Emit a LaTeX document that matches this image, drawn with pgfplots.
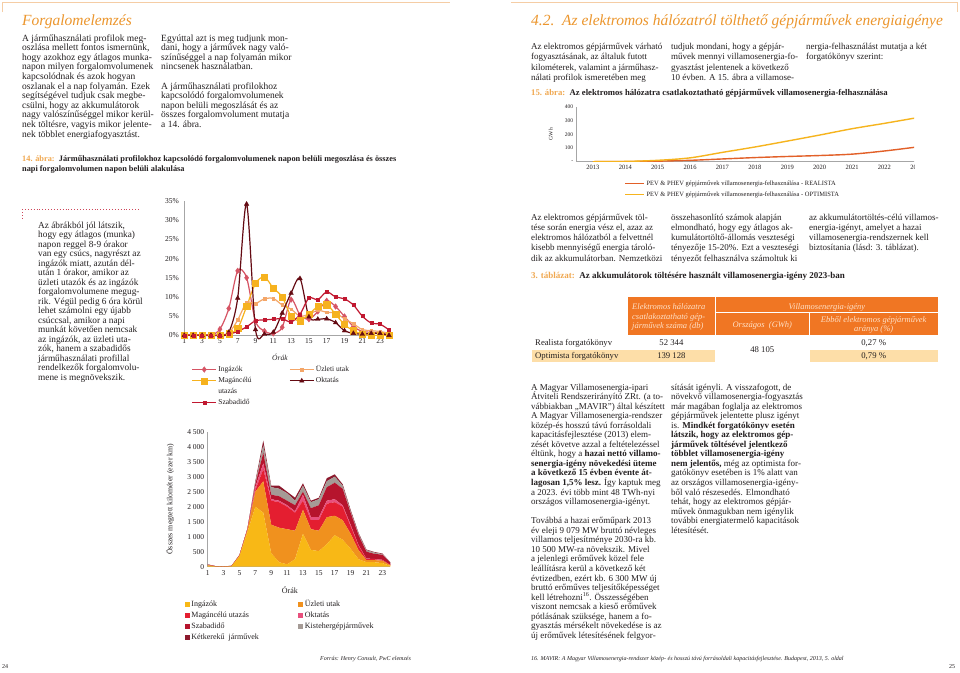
\documentclass[border=0pt]{standalone}
\usepackage{fontspec}
\setmainfont{Liberation Serif}
\usepackage{pgfplots}
\pgfplotsset{compat=1.18}

\definecolor{hdor}{RGB}{236,150,45}
\definecolor{capor}{RGB}{240,168,80}
\definecolor{rulec}{RGB}{245,205,165}
\definecolor{tabor}{RGB}{240,118,35}
\definecolor{tabrow}{RGB}{253,222,168}
\definecolor{tabhd}{RGB}{255,224,198}
\definecolor{txt}{RGB}{35,31,32}
\definecolor{cIng}{RGB}{214,84,100}
\definecolor{cUzl}{RGB}{244,166,104}
\definecolor{cMag}{RGB}{246,178,30}
\definecolor{cSza}{RGB}{193,24,48}
\definecolor{cOkt}{RGB}{100,10,18}
\definecolor{aIng}{RGB}{248,184,22}
\definecolor{aUzl}{RGB}{240,145,30}
\definecolor{aMag}{RGB}{228,30,48}
\definecolor{aOkt}{RGB}{232,80,125}
\definecolor{aSza}{RGB}{182,20,45}
\definecolor{aKis}{RGB}{165,155,150}
\definecolor{aKet}{RGB}{140,25,45}
\definecolor{cRea}{RGB}{226,96,40}
\definecolor{cOpt}{RGB}{246,180,30}

\newcommand\tb[3]{\vtop{\fontsize{#1}{#2}\selectfont\lineskiplimit=-100pt\lineskip=0pt\halign{##\hfil\cr#3\crcr}}}
\newcommand\tbc[3]{\vtop{\fontsize{#1}{#2}\selectfont\lineskiplimit=-100pt\lineskip=0pt\halign{\hfil##\hfil\cr#3\crcr}}}

\begin{document}
\begin{tikzpicture}[x=1pt,y=-1pt,T/.style={anchor=base west,inner sep=0pt,text=txt}]
\fill[white] (0,0) rectangle (960,672);
\useasboundingbox (0,0) rectangle (960,672);

% top rules
\draw[rulec,line width=0.8pt] (2,12) -- (2,2) -- (450,2);
\draw[rulec,line width=0.8pt] (511,2) -- (957,2) -- (957,12);

% headings
\node[T,text=hdor,font=\fontsize{15.5}{18}\selectfont\itshape] at (22,25) {Forgalomelemzés};
\node[T,text=hdor,font=\fontsize{15.5}{18}\selectfont\itshape] at (531,25) {4.2.\ \ Az elektromos hálózatról tölthető gépjárművek energiaigénye};

% left page text
\node[T] at (22,41) {\tb{9.5}{9.6}{A járműhasználati profilok meg-\cr
oszlása mellett fontos ismernünk,\cr
hogy azokhoz egy átlagos munka-\cr
napon milyen forgalomvolumenek\cr
kapcsolódnak és azok hogyan\cr
oszlanak el a nap folyamán. Ezek\cr
segítségével tudjuk csak megbe-\cr
csülni, hogy az akkumulátorok\cr
nagy valószínűséggel mikor kerül-\cr
nek töltésre, vagyis mikor jelente-\cr
nek többlet energiafogyasztást.}};
\node[T] at (161,41) {\tb{9.5}{9.6}{Egyúttal azt is meg tudjunk mon-\cr
dani, hogy a járművek nagy való-\cr
színűséggel a nap folyamán mikor\cr
nincsenek használatban.\cr
\cr
A járműhasználati profilokhoz\cr
kapcsolódó forgalomvolumenek\cr
napon belüli megoszlását és az\cr
összes forgalomvolument mutatja\cr
a 14. ábra.}};
\node[T] at (22,161) {\tb{8.3}{10}{\textbf{\textcolor{capor}{14. ábra:}}\enspace\textbf{Járműhasználati profilokhoz kapcsolódó forgalomvolumenek napon belüli megoszlása és összes}\cr
\textbf{napi forgalomvolumen napon belüli alakulása}}};

\draw[cSza!80,dotted,line width=0.9pt] (22,209) -- (140,209);
\draw[cSza!80,dotted,line width=0.9pt] (22,212) -- (22,218);

\node[T] at (38,228) {\tb{9.3}{9.53}{Az ábrákból jól látszik,\cr
hogy egy átlagos (munka)\cr
napon reggel 8-9 órakor\cr
van egy csúcs, nagyrészt az\cr
ingázók miatt, azután dél-\cr
után 1 órakor, amikor az\cr
üzleti utazók és az ingázók\cr
forgalomvolumene megug-\cr
rik. Végül pedig 6 óra körül\cr
lehet számolni egy újabb\cr
csúccsal, amikor a napi\cr
munkát követően nemcsak\cr
az ingázók, az üzleti uta-\cr
zók, hanem a szabadidős\cr
járműhasználati profillal\cr
rendelkezők forgalomvolu-\cr
mene is megnövekszik.}};

\node[T,font=\fontsize{6}{7}\selectfont\itshape] at (320,660) {Forrás: Henry Consult, PwC elemzés};
\node[T,font=\fontsize{6}{7}\selectfont] at (2,668) {24};
\node[T,font=\fontsize{6}{7}\selectfont] at (949,668) {25};

% right page text
\node[T] at (531,49) {\tb{9}{10.5}{Az elektromos gépjárművek várható\cr
fogyasztásának, az általuk futott\cr
kilométerek, valamint a járműhasz-\cr
nálati profilok ismeretében meg}};
\node[T] at (671,49) {\tb{9}{10.5}{tudjuk mondani, hogy a gépjár-\cr
művek mennyi villamosenergia-fo-\cr
gyasztást jelentenek a következő\cr
10 évben. A 15. ábra a villamose-}};
\node[T] at (806,49) {\tb{9}{10.5}{nergia-felhasználást mutatja a két\cr
forgatókönyv szerint:}};
\node[T] at (531,95) {\tb{8.7}{10}{\textbf{\textcolor{capor}{15. ábra:}}\enspace\textbf{Az elektromos hálózatra csatlakoztatható gépjárművek villamosenergia-felhasználása}}};

\node[T] at (531,220) {\tb{9}{10.3}{Az elektromos gépjárművek töl-\cr
tése során energia vész el, azaz az\cr
elektromos hálózatból a felvettnél\cr
kisebb mennyiségű energia tároló-\cr
dik az akkumulátorban. Nemzetközi}};
\node[T] at (671,220) {\tb{9}{10.3}{összehasonlító számok alapján\cr
elmondható, hogy egy átlagos ak-\cr
kumulátortöltő-állomás veszteségi\cr
tényezője 15-20\%. Ezt a veszteségi\cr
tényezőt felhasználva számoltuk ki}};
\node[T] at (809,220) {\tb{9}{10.3}{az akkumulátortöltés-célú villamos-\cr
energia-igényt, amelyet a hazai\cr
villamosenergia-rendszernek kell\cr
biztosítania (lásd: 3. táblázat).}};
\node[T] at (531,278) {\tb{9}{10}{\textbf{\textcolor{capor}{3. táblázat:}}\enspace\textbf{Az akkumulátorok töltésére használt villamosenergia-igény 2023-ban}}};

% table
\fill[tabor] (627.7,296.7) rectangle (715,335);
\fill[tabor] (716,296.7) rectangle (937.7,312.3);
\fill[tabor] (716,313) rectangle (808.7,335);
\fill[tabor] (809.7,313) rectangle (937.7,335);
\fill[tabrow] (531.7,350) rectangle (715,361.7);
\fill[tabrow] (809.7,350) rectangle (937.7,361.7);
\node[T,text=tabhd,font=\itshape] at (632,309.5) {\tb{8.5}{9.5}{Elektromos hálózatra\cr csatlakoztatható gép-\cr járművek száma (db)}};
\node[anchor=base,inner sep=0pt,text=tabhd,font=\fontsize{8.5}{9.5}\selectfont\itshape] at (826.9,309) {Villamosenergia-igény};
\node[anchor=base,inner sep=0pt,text=tabhd,font=\fontsize{8.5}{9.5}\selectfont\itshape] at (762.3,327) {Országos\ \ (GWh)};
\node[anchor=base,inner sep=0pt,text=tabhd,font=\itshape] at (873.7,322) {\tbc{8.5}{9.3}{Ebből elektromos gépjárművek\cr aránya (\%)}};
\begin{scope}[every node/.style={inner sep=0pt,text=txt,font=\fontsize{8.7}{10}\selectfont}]
\node[anchor=base west] at (535,345.3) {Realista forgatókönyv};
\node[anchor=base west] at (535,358.7) {Optimista forgatókönyv};
\node[anchor=base] at (671.4,345.3) {52 344};
\node[anchor=base] at (671.4,358.7) {139 128};
\node[anchor=base] at (762.3,352) {48 105};
\node[anchor=base] at (873.7,345.3) {0,27 \%};
\node[anchor=base] at (873.7,358.7) {0,79 \%};
\end{scope}

\node[T] at (531,390) {\tb{9}{9.55}{A Magyar Villamosenergia-ipari\cr
Átviteli Rendszerirányító ZRt. (a to-\cr
vábbiakban „MAVIR”) által készített\cr
A Magyar Villamosenergia-rendszer\cr
közép-és hosszú távú forrásoldali\cr
kapacitásfejlesztése (2013) elem-\cr
zését követve azzal a feltételezéssel\cr
éltünk, hogy a \textbf{hazai nettó villamo-}\cr
\textbf{senergia-igény növekedési üteme}\cr
\textbf{a következő 15 évben évente át-}\cr
\textbf{lagosan 1,5\% lesz.} Így kaptuk meg\cr
a 2023. évi több mint 48 TWh-nyi\cr
országos villamosenergia-igényt.\cr
\cr
Továbbá a hazai erőműpark 2013\cr
év eleji 9 079 MW bruttó névleges\cr
villamos teljesítménye 2030-ra kb.\cr
10 500 MW-ra növekszik. Mivel\cr
a jelenlegi erőművek közel fele\cr
leállításra kerül a következő két\cr
évtizedben, ezért kb. 6 300 MW új\cr
bruttó erőműves teljesítőképességet\cr
kell létrehozni\textsuperscript{16}. Összességében\cr
viszont nemcsak a kieső erőművek\cr
pótlásának szüksége, hanem a fo-\cr
gyasztás mérsékelt növekedése is az\cr
új erőművek létesítésének felgyor-}};
\node[T] at (671,390) {\tb{9}{9.55}{sítását igényli. A visszafogott, de\cr
növekvő villamosenergia-fogyasztás\cr
már magában foglalja az elektromos\cr
gépjárművek jelentette plusz igényt\cr
is. \textbf{Mindkét forgatókönyv esetén}\cr
\textbf{látszik, hogy az elektromos gép-}\cr
\textbf{járművek töltésével jelentkező}\cr
\textbf{többlet villamosenergia-igény}\cr
\textbf{nem jelentős,} még az optimista for-\cr
gatókönyv esetében is 1\% alatt van\cr
az országos villamosenergia-igény-\cr
ből való részesedés. Elmondható\cr
tehát, hogy az elektromos gépjár-\cr
művek önmagukban nem igénylik\cr
további energiatermelő kapacitások\cr
létesítését.}};
\node[T,font=\fontsize{6}{7}\selectfont\itshape] at (531,660) {16. MAVIR: A Magyar Villamosenergia-rendszer közép- és hosszú távú forrásoldali kapacitásfejlesztése. Budapest, 2013, 5. oldal};

% ===== Chart 1: percentage profiles =====
\begin{axis}[
  at={(184.3pt,-335.3pt)}, anchor=south west, scale only axis,
  width=204.7pt, height=134.3pt,
  xmin=1, xmax=24, ymin=0, ymax=35,
  axis x line*=bottom, axis y line*=left,
  axis line style={draw=black!35,line width=0.5pt},
  xtick={1,3,...,23}, ytick={0,5,...,35},
  major tick length=0pt,
  yticklabel={\pgfmathprintnumber{\tick}\%},
  yticklabel style={xshift=-2pt},
  tick label style={font=\fontsize{7.5}{8}\selectfont,text=txt},
  /pgf/number format/assume math mode=true,
  xlabel={Órák},
  every axis x label/.style={at={(axis description cs:0.467,-0.191)},anchor=base,font=\fontsize{7.5}{8}\selectfont\itshape,text=txt},
  clip=false,
  legend columns=2, legend cell align=left,
  legend style={at={(axis description cs:0.035,-0.214)},anchor=north west,draw=none,fill=none,inner sep=0pt,
    font=\fontsize{7.5}{8.5}\selectfont,text=txt,nodes={inner sep=1.5pt},row sep=1.2pt,
    /tikz/every even column/.append style={column sep=36pt}},
  legend image code/.code={\draw[mark repeat=2,mark phase=2,#1] plot coordinates {(0pt,0pt) (12pt,0pt) (24pt,0pt)};},
  every axis plot/.append style={line width=1.2pt,smooth},
]
\addplot[cIng,mark=diamond*,mark size=2.8pt,mark options={solid,line width=0.4pt}] coordinates {(1,0)(2,0)(3,0)(4,0)(5,1.6)(6,7)(7,16.8)(8,15)(9,3.7)(10,1.1)(11,0.5)(12,2.1)(13,9.3)(14,5.3)(15,4.2)(16,6.2)(17,9)(18,7.5)(19,4.9)(20,2.3)(21,1)(22,0.8)(23,0.5)(24,0.3)};
\addlegendentry{Ingázók}
\addplot[cUzl,mark=square*,mark size=1.3pt,mark options={solid,line width=0.4pt}] coordinates {(1,0)(2,0)(3,0)(4,0)(5,0.2)(6,0.6)(7,4)(8,8.5)(9,8.3)(10,9.5)(11,9.6)(12,7.9)(13,6.8)(14,5)(15,5.5)(16,6.5)(17,6)(18,5.8)(19,4.3)(20,3)(21,1.5)(22,1.2)(23,1)(24,0.5)};
\addlegendentry{Üzleti utak}
\addplot[cMag,mark=square*,mark size=3.1pt,mark options={solid,line width=0.4pt}] coordinates {(1,0)(2,0)(3,0)(4,0)(5,0)(6,0.4)(7,1.8)(8,7.5)(9,13.5)(10,15.2)(11,12.3)(12,10)(13,5)(14,3.8)(15,5.5)(16,7.5)(17,8)(18,5.5)(19,2.8)(20,1.2)(21,0.3)(22,0)(23,0)(24,0)};
\addlegendentry{Magáncélú}
\addplot[cOkt,mark=triangle*,mark size=2.6pt,mark options={solid,line width=0.4pt}] coordinates {(1,0)(2,0)(3,0)(4,0)(5,0)(6,0.8)(7,9.7)(8,34.2)(9,1.5)(10,0.3)(11,0.8)(12,5.8)(13,11)(14,14.8)(15,4.8)(16,4.2)(17,4.3)(18,3.3)(19,1.2)(20,0.5)(21,0.3)(22,0.5)(23,0.5)(24,0)};
\addlegendentry{Oktatás}
\addlegendimage{empty legend}
\addlegendentry{utazás}
\addlegendimage{empty legend}
\addlegendentry{}
\addplot[cSza,mark=square*,mark size=1.5pt,mark options={solid,line width=0.4pt}] coordinates {(1,0)(2,0)(3,0)(4,0)(5,0)(6,0.3)(7,1)(8,2.2)(9,3.8)(10,4)(11,4.2)(12,4.3)(13,3.5)(14,5.5)(15,9.7)(16,9.3)(17,11.3)(18,10)(19,9.5)(20,7.9)(21,5)(22,3.2)(23,2.9)(24,1.4)};
\addlegendentry{Szabadidő}
\end{axis}

% ===== Chart 2: stacked km =====
\begin{axis}[
  at={(207.7pt,-566.7pt)}, anchor=south west, scale only axis,
  width=182.6pt, height=135pt,
  xmin=1, xmax=24, ymin=0, ymax=4500,
  stack plots=y,
  axis x line*=bottom, axis y line*=left,
  axis line style={draw=black!35,line width=0.5pt},
  xtick={1,3,...,23}, ytick={0,500,...,4500},
  major tick length=0pt,
  tick label style={font=\fontsize{7.5}{8}\selectfont,text=txt},
  /pgf/number format/assume math mode=true,
  /pgf/number format/1000 sep={\ },
  ylabel={Összes megtett kilométer (ezer km)},
  every axis y label/.style={at={(axis description cs:-0.206,0.5)},rotate=90,anchor=center,font=\fontsize{7.8}{8}\selectfont,text=txt},
  xlabel={Órák},
  every axis x label/.style={at={(axis description cs:0.45,-0.2)},anchor=base,font=\fontsize{8}{8}\selectfont,text=txt},
  legend columns=2, legend cell align=left,
  legend style={at={(axis description cs:-0.126,-0.235)},anchor=north west,draw=none,fill=none,inner sep=0pt,
    font=\fontsize{8}{9}\selectfont,text=txt,nodes={inner sep=1.5pt},row sep=0.9pt,
    /tikz/every even column/.append style={column sep=38pt}},
  legend image code/.code={\fill[#1] (0pt,-2.5pt) rectangle (5pt,2.5pt);},
]
\addplot[fill=aIng,draw=none] coordinates {(1,40)(2,10)(3,5)(4,15)(5,350)(6,1150)(7,2000)(8,1800)(9,450)(10,150)(11,80)(12,250)(13,1100)(14,560)(15,520)(16,750)(17,1050)(18,900)(19,600)(20,250)(21,150)(22,150)(23,120)(24,30)} \closedcycle;
\addlegendentry{Ingázók}
\addplot[fill=aUzl,draw=none] coordinates {(1,10)(2,2)(3,3)(4,5)(5,20)(6,70)(7,500)(8,1050)(9,950)(10,1150)(11,1170)(12,950)(13,800)(14,690)(15,680)(16,900)(17,650)(18,650)(19,500)(20,300)(21,70)(22,70)(23,80)(24,20)} \closedcycle;
\addlegendentry{Üzleti utak}
\addplot[fill=aMag,draw=none] coordinates {(1,5)(2,2)(3,1)(4,2)(5,5)(6,20)(7,50)(8,400)(9,800)(10,850)(11,750)(12,600)(13,300)(14,300)(15,350)(16,450)(17,450)(18,450)(19,250)(20,150)(21,30)(22,30)(23,20)(24,10)} \closedcycle;
\addlegendentry{Magáncélú utazás}
\addplot[fill=aOkt,draw=none] coordinates {(1,2)(2,1)(3,1)(4,1)(5,5)(6,10)(7,100)(8,200)(9,50)(10,50)(11,50)(12,50)(13,200)(14,100)(15,100)(16,100)(17,100)(18,50)(19,50)(20,20)(21,20)(22,10)(23,10)(24,0)} \closedcycle;
\addlegendentry{Oktatás}
\addplot[fill=aSza,draw=none] coordinates {(1,13)(2,3)(3,2)(4,4)(5,5)(6,10)(7,100)(8,350)(9,150)(10,150)(11,150)(12,200)(13,100)(14,300)(15,400)(16,450)(17,550)(18,550)(19,400)(20,330)(21,230)(22,170)(23,170)(24,70)} \closedcycle;
\addlegendentry{Szabadidő}
\addplot[fill=aKis,draw=none] coordinates {(1,5)(2,1)(3,1)(4,1)(5,2)(6,5)(7,50)(8,250)(9,250)(10,250)(11,250)(12,150)(13,200)(14,200)(15,200)(16,200)(17,200)(18,100)(19,50)(20,50)(21,50)(22,40)(23,20)(24,10)} \closedcycle;
\addlegendentry{Kistehergépjárművek}
\addplot[fill=aKet,draw=none] coordinates {(1,5)(2,1)(3,1)(4,2)(5,3)(6,5)(7,50)(8,150)(9,50)(10,100)(11,50)(12,100)(13,80)(14,50)(15,50)(16,100)(17,80)(18,50)(19,50)(20,30)(21,20)(22,20)(23,20)(24,10)} \closedcycle;
\addlegendentry{Kétkerekű\ \ járművek}
\end{axis}

% ===== Chart 3: GWh =====
\begin{scope}
\clip (540,90) rectangle (914,205);
\begin{axis}[
  at={(576.7pt,-161.7pt)}, anchor=south west, scale only axis,
  width=356.4pt, height=55pt,
  xmin=2012.5, xmax=2023.5, ymin=0, ymax=400,
  axis x line*=bottom, axis y line*=left,
  axis line style={draw=black!35,line width=0.5pt},
  xtick={2013,...,2023}, ytick={0,100,...,400}, yticklabels={-,100,200,300,400},
  major tick length=0pt,
  xticklabel style={font=\fontsize{6.5}{7}\selectfont,text=txt,/pgf/number format/1000 sep=},
  yticklabel style={font=\fontsize{5.5}{6}\selectfont,text=txt},
  /pgf/number format/assume math mode=true,
  ylabel={GWh},
  every axis y label/.style={at={(axis description cs:-0.073,0.5)},rotate=90,anchor=center,font=\fontsize{5.5}{6}\selectfont,text=txt},
  legend cell align=left,
  legend style={at={(axis description cs:0.134,-0.311)},anchor=north west,draw=none,fill=none,inner sep=0pt,
    font=\fontsize{6.5}{7}\selectfont,text=txt,nodes={inner sep=1.5pt},row sep=2pt},
  legend image code/.code={\draw[#1] (0pt,0pt) -- (19pt,0pt);},
  every axis plot/.append style={line width=1.4pt,smooth,no markers},
]
\addplot[cRea] coordinates {(2013,0)(2014,1)(2015,4)(2016,10)(2017,20)(2018,30)(2019,38)(2020,45)(2021,55)(2022,78)(2023,107)};
\addlegendentry{PEV \& PHEV gépjárművek villamosenergia-felhasználása - REALISTA}
\addplot[cOpt] coordinates {(2013,0)(2014,2)(2015,10)(2016,28)(2017,68)(2018,107)(2019,150)(2020,194)(2021,240)(2022,279)(2023,320)};
\addlegendentry{PEV \& PHEV gépjárművek villamosenergia-felhasználása - OPTIMISTA}
\end{axis}
\end{scope}
\end{tikzpicture}
\end{document}
